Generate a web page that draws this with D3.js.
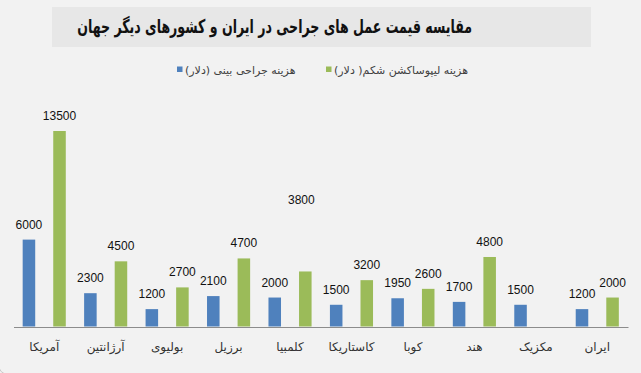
<!DOCTYPE html>
<html>
<head>
<meta charset="utf-8">
<script src="https://cdn.jsdelivr.net/npm/d3@7"></script>
<style>
  html, body { margin: 0; padding: 0; background: #f2f2f2; }
  svg { display: block; }
  .persian { font-family: "DejaVu Sans", sans-serif; }
  .value { font-family: "Liberation Sans", Arial, sans-serif; font-size: 12px; fill: #111; }
</style>
</head>
<body>
<svg width="641" height="373" viewBox="0 0 641 373"></svg>
<script>
const countries = ['ایران', 'مکزیک', 'هند', 'کوبا', 'کاستاریکا', 'کلمبیا', 'برزیل', 'بولیوی', 'آرژانتین', 'آمریکا']
const rhinoplasty = [1200, 1500, 1700, 1950, 1500, 2000, 2100, 1200, 2300, 6000]
const liposuction = [2000, null, 4800, 2600, 3200, 3800, 4700, 2700, 4500, 13500]
const seriesNames = ['هزینه جراحی بینی (دلار)', 'هزینه لیپوساکشن شکم( دلار)']
const titleText = 'مقایسه قیمت عمل های جراحی در ایران و کشورهای دیگر جهان'

window.onload = () => {
  const root = d3.select('svg')
  const color = d3.scaleOrdinal([0, 1], ['#4f81bd', '#9bbb59'])

  const rows = countries.map((c, i) => ({ country: c, values: [rhinoplasty[i], liposuction[i]] }))

  // rounded chart border, only the lower left corner shows
  root.append('rect')
    .attr('x', -1).attr('y', -30)
    .attr('width', 700).attr('height', 404)
    .attr('rx', 8)
    .attr('fill', '#f2f2f2')
    .attr('stroke', '#c8c8c8')

  // title box
  root.append('rect')
    .attr('x', 52).attr('y', 7)
    .attr('width', 539).attr('height', 40)
    .attr('fill', '#e7e7e7')

  const titleG = root.append('g')
  const title = titleG.append('text')
    .attr('class', 'persian')
    .attr('direction', 'rtl')
    .attr('text-anchor', 'start')
    .attr('font-size', 19)
    .attr('font-weight', 'bold')
    .attr('fill', '#111')
    .text(titleText)

  // squeeze the title sideways, the original face is a condensed one
  const len = title.node().getComputedTextLength()
  titleG.attr('transform', `translate(472,33) scale(${395 / len},1)`)

  const x0 = d3.scaleBand().domain(countries).range([628, 13.5])
  const x1 = d3.scaleBand().domain([0, 1]).range([0, x0.bandwidth()])
    .paddingInner(0.59).paddingOuter(0.3)
  const y = d3.scaleLinear().domain([0, 13500]).range([326.5, 131])

  const groups = root.append('g')
    .selectAll('g')
    .data(rows)
    .enter()
    .append('g')
    .attr('transform', d => `translate(${x0(d.country)},0)`)

  const bars = groups.selectAll('g')
    .data(d => d.values.map((v, k) => ({ country: d.country, k: k, v: v })).filter(d => d.v != null))
    .enter()
    .append('g')

  bars.append('rect')
    .attr('x', d => x1(d.k))
    .attr('width', x1.bandwidth())
    .attr('y', d => y(d.v))
    .attr('height', d => y(0) - y(d.v))
    .attr('fill', d => color(d.k))

  // the Colombia liposuction label floats high in the original
  const stray = d => d.country === 'کلمبیا' && d.k === 1

  bars.append('text')
    .attr('class', 'value')
    .attr('text-anchor', 'middle')
    .attr('x', d => x1(d.k) + x1.bandwidth() / 2 + (stray(d) ? -4 : 0))
    .attr('y', d => y(d.v) - 11 - (stray(d) ? 56 : 0))
    .text(d => d.v)

  const axis = root.append('g')
    .attr('transform', 'translate(0,327)')
    .call(d3.axisBottom(x0).tickSize(0).tickSizeOuter(0).tickPadding(15))

  axis.select('.domain').attr('stroke', '#8c8c8c')
  axis.selectAll('text')
    .attr('class', 'persian')
    .attr('direction', 'rtl')
    .attr('font-size', 12)
    .attr('fill', '#333')

  // legend
  const legend = root.append('g')
    .selectAll('g')
    .data(seriesNames)
    .enter()
    .append('g')
    .attr('transform', (d, i) => `translate(${[177, 326][i]},66.5)`)

  legend.append('rect')
    .attr('width', 5.5).attr('height', 5.5)
    .attr('fill', (d, i) => color(i))

  legend.append('text')
    .attr('class', 'persian')
    .attr('x', 8).attr('y', 7)
    .attr('direction', 'rtl')
    .attr('text-anchor', 'end')
    .attr('font-size', 11)
    .attr('fill', '#404040')
    .text(d => d)
}
</script>
</body>
</html>
